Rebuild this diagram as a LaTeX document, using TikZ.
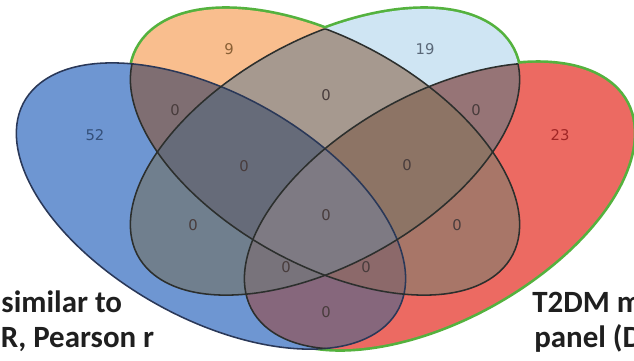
\documentclass[tikz,border=0pt]{standalone}
\usepackage{fontspec}
\newfontfamily\numfont{DejaVu Sans}
\newfontfamily\labfont{Carlito}
\usetikzlibrary{positioning}
\usepackage{xcolor}
% single sets
\definecolor{regA}{RGB}{110,150,210}
\definecolor{regB}{RGB}{249,190,142}
\definecolor{regC}{RGB}{207,229,243}
\definecolor{regD}{RGB}{236,106,98}
% overlaps
\definecolor{regAB}{RGB}{127,110,114}
\definecolor{regAC}{RGB}{112,127,142}
\definecolor{regAD}{RGB}{134,103,124}
\definecolor{regBC}{RGB}{166,153,143}
\definecolor{regBD}{RGB}{168,118,104}
\definecolor{regCD}{RGB}{150,116,118}
\definecolor{regABC}{RGB}{102,107,121}
\definecolor{regABD}{RGB}{140,105,106}
\definecolor{regACD}{RGB}{120,115,123}
\definecolor{regBCD}{RGB}{141,116,101}
\definecolor{regABCD}{RGB}{126,122,131}
% lines and text
\definecolor{rimGreen}{RGB}{84,178,62}
\definecolor{rimNavy}{RGB}{42,56,88}
\definecolor{rimDark}{RGB}{44,47,45}
\definecolor{numA}{RGB}{52,80,122}
\definecolor{numB}{RGB}{138,96,53}
\definecolor{numC}{RGB}{90,104,120}
\definecolor{numD}{RGB}{160,37,37}
\definecolor{numZero}{RGB}{72,60,60}
% the four ellipses, in the stretched venn frame
\newcommand{\ellA}{(-.167,-.1076) ellipse [x radius=.35, y radius=.2, rotate=-45]}
\newcommand{\ellB}{(0,0) ellipse [x radius=.35, y radius=.2, rotate=-45]}
\newcommand{\ellC}{(0,0) ellipse [x radius=.35, y radius=.2, rotate=45]}
\newcommand{\ellD}{(.167,-.1076) ellipse [x radius=.35, y radius=.2, rotate=45]}

\begin{document}
\begin{tikzpicture}[
    num/.style={font=\numfont\fontsize{10.5}{12}\selectfont, text=numZero, inner sep=0pt},
    lab/.style={font=\labfont\bfseries\fontsize{22}{26}\selectfont, text=black!88, anchor=base west, inner sep=0pt},
    rim/.style={draw=rimDark, line width=1.1pt}
]
\useasboundingbox (0,0) rectangle (15.85,9);
\clip (0,0) rectangle (15.85,9);
\fill[white] (0,0) rectangle (15.85,9);

\begin{scope}[shift={(8.125,5.2)}, xscale=1.36, scale=12.55]
% green rims first, the fills hide their inner half
\draw[rimGreen, line width=3.8pt] \ellB \ellC \ellD;

\fill[regA] \ellA;
\fill[regB] \ellB;
\fill[regC] \ellC;
\fill[regD] \ellD;
% pairs
\begin{scope}\clip \ellA; \fill[regAB] \ellB; \fill[regAC] \ellC; \fill[regAD] \ellD;\end{scope}
\begin{scope}\clip \ellB; \fill[regBC] \ellC; \fill[regBD] \ellD;\end{scope}
\begin{scope}\clip \ellC; \fill[regCD] \ellD;\end{scope}
% triples
\begin{scope}\clip \ellA; \clip \ellB; \fill[regABC] \ellC; \fill[regABD] \ellD;\end{scope}
\begin{scope}\clip \ellA; \clip \ellC; \fill[regACD] \ellD;\end{scope}
\begin{scope}\clip \ellB; \clip \ellC; \fill[regBCD] \ellD;\end{scope}
% all four
\begin{scope}\clip \ellA; \clip \ellB; \clip \ellC; \fill[regABCD] \ellD;\end{scope}

% dark lines inside
\draw[rim, draw=rimNavy] \ellA;
\begin{scope}\clip \ellA \ellC \ellD; \draw[rim] \ellB;\end{scope}
\begin{scope}\clip \ellA \ellB \ellD; \draw[rim] \ellC;\end{scope}
\begin{scope}\clip \ellA \ellB \ellC; \draw[rim] \ellD;\end{scope}
\end{scope}

% counts
\node[num, text=numA] (nA) at (2.375,5.625) {52};
\node[num, text=numB] (nB) at (5.725,7.775) {9};
\node[num, text=numC] (nC) at (10.625,7.775) {19};
\node[num, text=numD] (nD) at (14.0,5.625) {23};
\node[num] (nAB) at (4.375,6.25) {0};
\node[num] (nBC) at (8.15,6.625) {0};
\node[num] (nCD) at (11.9,6.25) {0};
\node[num] (nABC) at (6.1,4.85) {0};
\node[num] (nBCD) at (10.175,4.875) {0};
\node[num] (nABCD) at (8.15,3.625) {0};
\node[num] (nAC) at (4.825,3.375) {0};
\node[num] (nBD) at (11.425,3.375) {0};
\node[num] (nACD) at (7.15,2.325) {0};
\node[num] (nABD) at (9.15,2.325) {0};
\node[num] (nAD) at (8.15,1.2) {0};

% set labels, cut by the frame
\node[lab] (labLa) at (0.03,1.2) {similar to};
\node[lab] (labLb) at (0.015,0.325) {R, Pearson r};
\node[lab] (labRa) at (13.3,1.2) {T2DM m};
\node[lab] (labRb) at (13.35,0.325) {panel (D};
\end{tikzpicture}
\end{document}
